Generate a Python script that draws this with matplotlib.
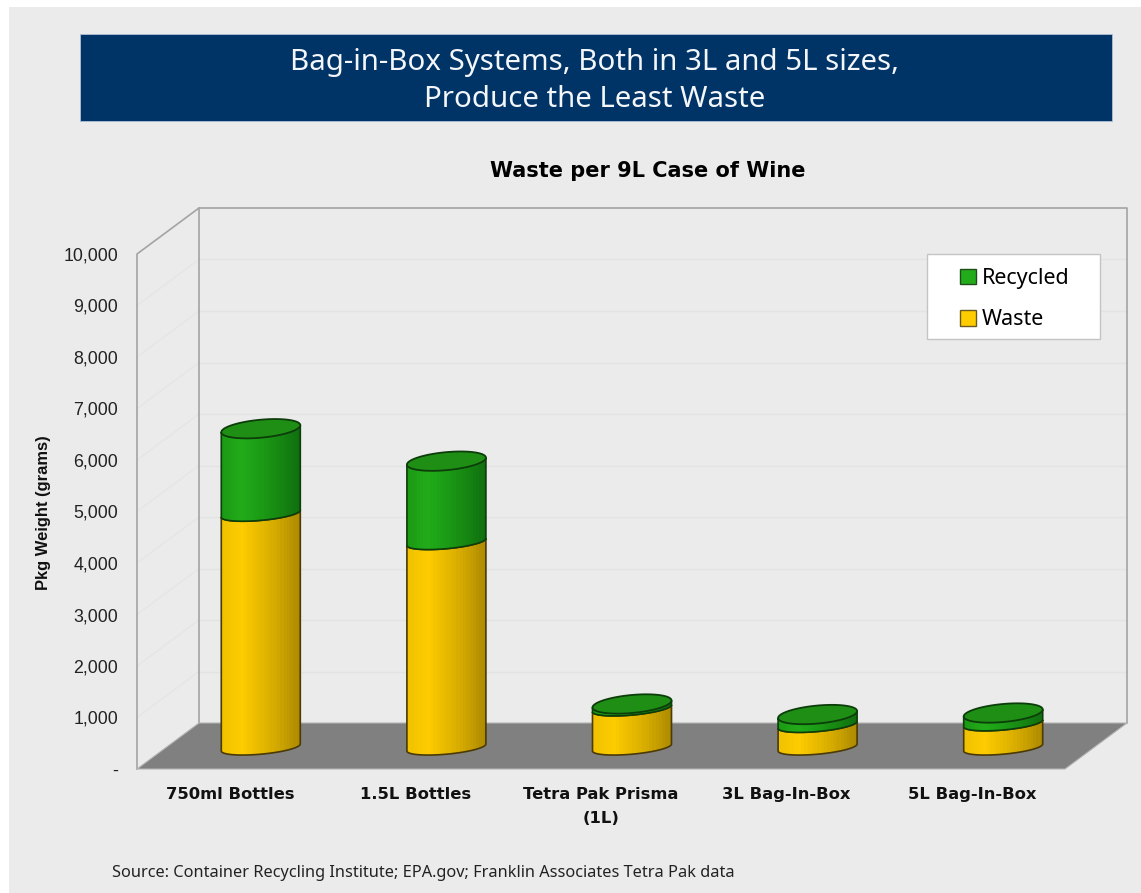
import numpy as np
import matplotlib
matplotlib.use("Agg")
import matplotlib.pyplot as plt
from matplotlib.patches import Rectangle, Polygon, Patch
from matplotlib.colors import LinearSegmentedColormap

categories = ["750ml Bottles", "1.5L Bottles", "Tetra Pak Prisma\n(1L)", "3L Bag-In-Box", "5L Bag-In-Box"]
waste = [4540, 3990, 760, 440, 470]
recycled = [1650, 1570, 85, 200, 200]
y_ticks = [0, 1000, 2000, 3000, 4000, 5000, 6000, 7000, 8000, 9000, 10000]
y_tick_labels = ["-", "1,000", "2,000", "3,000", "4,000", "5,000", "6,000", "7,000", "8,000", "9,000", "10,000"]
banner_text = "Bag-in-Box Systems, Both in 3L and 5L sizes,\nProduce the Least Waste"
chart_title = "Waste per 9L Case of Wine"
y_label = "Pkg Weight (grams)"
source_text = "Source: Container Recycling Institute; EPA.gov; Franklin Associates Tetra Pak data"

W, H = 1141, 893
fig = plt.figure(figsize=(W / 100, H / 100), dpi=100, facecolor="white")


def fx(px):
    return px / W


def fy(py):
    return 1 - py / H


fig.patches.append(Rectangle((fx(9), 0), 1 - fx(9), fy(7), transform=fig.transFigure,
                             facecolor="#EBEBEB", edgecolor="none", zorder=-2))
fig.patches.append(Rectangle((fx(79.5), fy(120.5)), fx(1032), 86.5 / H, transform=fig.transFigure,
                             facecolor="#003366", edgecolor="#AFC0D6", linewidth=0.6, zorder=-1))
fig.text(fx(595), fy(81), banner_text, color="#F4F6FA", ha="center", va="center",
         fontsize=21.2, family="Noto Sans", linespacing=1.34)
fig.text(fx(648), fy(171), chart_title, color="black", ha="center", va="center",
         fontsize=15.05, family="DejaVu Sans", fontweight="bold")
fig.text(fx(112), fy(873), source_text, color="#222222", ha="left", va="center",
         fontsize=11.75, family="Noto Sans")

ax = fig.add_axes([fx(137), fy(769), 928 / W, 515 / H])
ax.set_facecolor("none")
ax.set_xlim(0, 5)
ax.set_ylim(0, 10000)
for s in ax.spines.values():
    s.set_visible(False)

DX = 62 / 928 * 5
DY = 46 / 51.5 * 1000
GRID, SIDE_GRID, WALL = "#E3E3E3", "#E5E5E5", "#A3A3A3"
for v in y_ticks[1:-1]:
    ax.plot([0, DX], [v, v + DY], color=SIDE_GRID, lw=0.9, clip_on=False, zorder=1)
    ax.plot([DX, 5 + DX], [v + DY, v + DY], color=GRID, lw=1.0, clip_on=False, zorder=1)
ax.plot([0, 0, DX, DX], [0, 10000, 10000 + DY, DY], color=WALL, lw=1.2, clip_on=False, zorder=2)
ax.plot([DX, 5 + DX, 5 + DX], [10000 + DY, 10000 + DY, DY], color=WALL, lw=1.2, clip_on=False, zorder=2)
ax.add_patch(Polygon([(0, 0), (DX, DY), (5 + DX, DY), (5, 0)], closed=True, facecolor="#808080",
                     edgecolor="#B4B4B4", linewidth=0.8, clip_on=False, zorder=3))

yellow = LinearSegmentedColormap.from_list("y", ["#F0C200", "#FFCC00", "#E8BA00", "#CFA600", "#AF8C00"])
green = LinearSegmentedColormap.from_list("g", ["#1C9A14", "#22AC1A", "#1C9C16", "#178812", "#107010"])

A = 39.5 / 928 * 5
B = 175.0
B_SIDE = 130.0
TILT = 68.0
BASE = 21.5 / 515 * 10000
t = np.linspace(0, 2 * np.pi, 121)


def arc(cx, cy, ts, b=B):
    return cx + A * np.cos(ts), cy + b * np.sin(ts) + TILT * np.cos(ts)


def segment(cx, y0, y1, cmap, edge, z):
    tl = np.linspace(np.pi, 2 * np.pi, 60)
    x0s, y0s = arc(cx, y0, tl, B_SIDE)
    x1s, y1s = arc(cx, y1, tl[::-1], B_SIDE)
    poly = Polygon(np.column_stack([np.r_[x0s, x1s], np.r_[y0s, y1s]]), closed=True,
                   facecolor="none", edgecolor=edge, linewidth=1.2, zorder=z + 0.1)
    ax.add_patch(poly)
    grad = np.linspace(0, 1, 24).reshape(1, -1)
    im = ax.imshow(grad, cmap=cmap, extent=[cx - A, cx + A, y0 - 400, y1 + 400], aspect="auto",
                   interpolation="nearest", origin="lower", zorder=z)
    im.set_clip_path(poly)


for i, (w, r) in enumerate(zip(waste, recycled)):
    cx = i + 0.5 + DX / 2
    y0 = BASE
    y1 = BASE + w
    y2 = y1 + r
    z = 5 + i
    segment(cx, y0, y1, yellow, "#4A3A05", z)
    segment(cx, y1, y2, green, "#0C3D0A", z + 0.2)
    xs, ys = arc(cx, y2, t)
    ax.fill(xs, ys, facecolor="#1F8E15", edgecolor="#0C3D0A", linewidth=1.3, zorder=z + 0.5)

ax.set_xlim(0, 5)
ax.set_ylim(0, 10000)
ax.set_xticks(np.arange(len(categories)) + 0.5)
ax.set_xticklabels(categories, family="DejaVu Sans", fontweight="bold", fontsize=11.8, color="#111111",
                   linespacing=1.75)
ax.set_yticks(y_ticks)
ax.set_yticklabels(y_tick_labels, family="Liberation Sans", fontsize=12.8, color="#222222")
ax.tick_params(axis="x", length=0, pad=12.7)
ax.tick_params(axis="y", length=0, pad=13.7)
fig.text(fx(44), fy(513), y_label, rotation=90, ha="center", va="center",
         family="Liberation Sans", fontweight="bold", fontsize=11.9, color="#111111")

ax.add_patch(Rectangle((fx(927), fy(339)), 173 / W, 85 / H, transform=fig.transFigure,
                       facecolor="white", edgecolor="#C4C4C4", linewidth=1.0, clip_on=False, zorder=19))
handles = [Patch(facecolor="#22AC1A", edgecolor="#1E4D1A", label="Recycled"),
           Patch(facecolor="#FFCC00", edgecolor="#6B5A20", label="Waste")]
leg = ax.legend(handles=handles, loc="upper left", bbox_to_anchor=(fx(960), fy(268)),
                bbox_transform=fig.transFigure, borderaxespad=0, frameon=False,
                handlelength=0.74, handleheight=0.74,
                handletextpad=0.28, labelspacing=0.95, borderpad=0,
                prop={"family": "Noto Sans", "size": 15.5})
leg.set_zorder(20)

fig.savefig("out.png", dpi=100, facecolor=fig.get_facecolor())
